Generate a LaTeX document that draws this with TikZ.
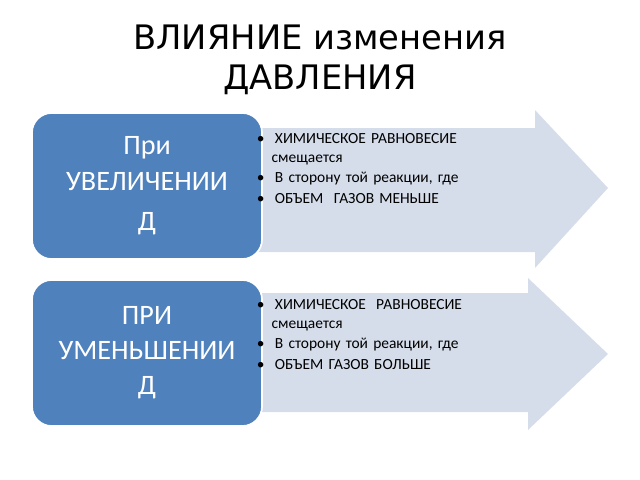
\documentclass[tikz,border=0pt]{standalone}
\usepackage{fontspec}
\setmainfont{Carlito}
\newfontfamily\titlefont{DejaVu Sans}
\definecolor{boxblue}{HTML}{4F81BD}
\definecolor{arrowgrey}{HTML}{D6DDEA}
\tikzset{
  px/.style={x=0.025cm,y=-0.025cm},
  bluebox/.style={draw=white,line width=1.2pt,fill=boxblue,rounded corners=14pt,
    minimum width=5.75cm,minimum height=3.65cm,text=white,align=center,
    font=\fontsize{20}{25}\selectfont},
  bullets/.style={anchor=north west,align=left,text width=6.5cm,
    font=\fontsize{11}{13.6}\selectfont}
}
\begin{document}
\begin{tikzpicture}[px]
  \useasboundingbox (0,0) rectangle (640,480);
  \node[font=\titlefont\fontsize{24}{28}\selectfont,align=center] (title) at (320,60) {ВЛИЯНИЕ изменения\\ДАВЛЕНИЯ};
  % arrows
  \fill[arrowgrey] (250,128) -- (535,128) -- (535,110) -- (608,188) -- (535,268) -- (535,252) -- (250,252) -- cycle;
  \fill[arrowgrey] (250,293) -- (528,293) -- (528,278) -- (608,354) -- (528,430) -- (528,412) -- (250,412) -- cycle;
  % boxes
  \node[bluebox] (inc) at (147,186) {При\\УВЕЛИЧЕНИИ\\[4pt]Д};
  \node[bluebox] (dec) at (147,353) {ПРИ\\УМЕНЬШЕНИИ\\Д};
  \node[bullets] (incText) at (252,128) {%
    \textbullet\ \ ХИМИЧЕСКОЕ РАВНОВЕСИЕ\\
    \hspace*{0.95em}смещается\\[1pt]
    \textbullet\ \ В сторону той реакции, где\\[1pt]
    \textbullet\ \ ОБЪЕМ\ \ ГАЗОВ МЕНЬШЕ};
  \node[bullets] (decText) at (252,294) {%
    \textbullet\ \ ХИМИЧЕСКОЕ\ \ РАВНОВЕСИЕ\\
    \hspace*{0.95em}смещается\\[1pt]
    \textbullet\ \ В сторону той реакции, где\\[1pt]
    \textbullet\ \ ОБЪЕМ ГАЗОВ БОЛЬШЕ};
\end{tikzpicture}
\end{document}
